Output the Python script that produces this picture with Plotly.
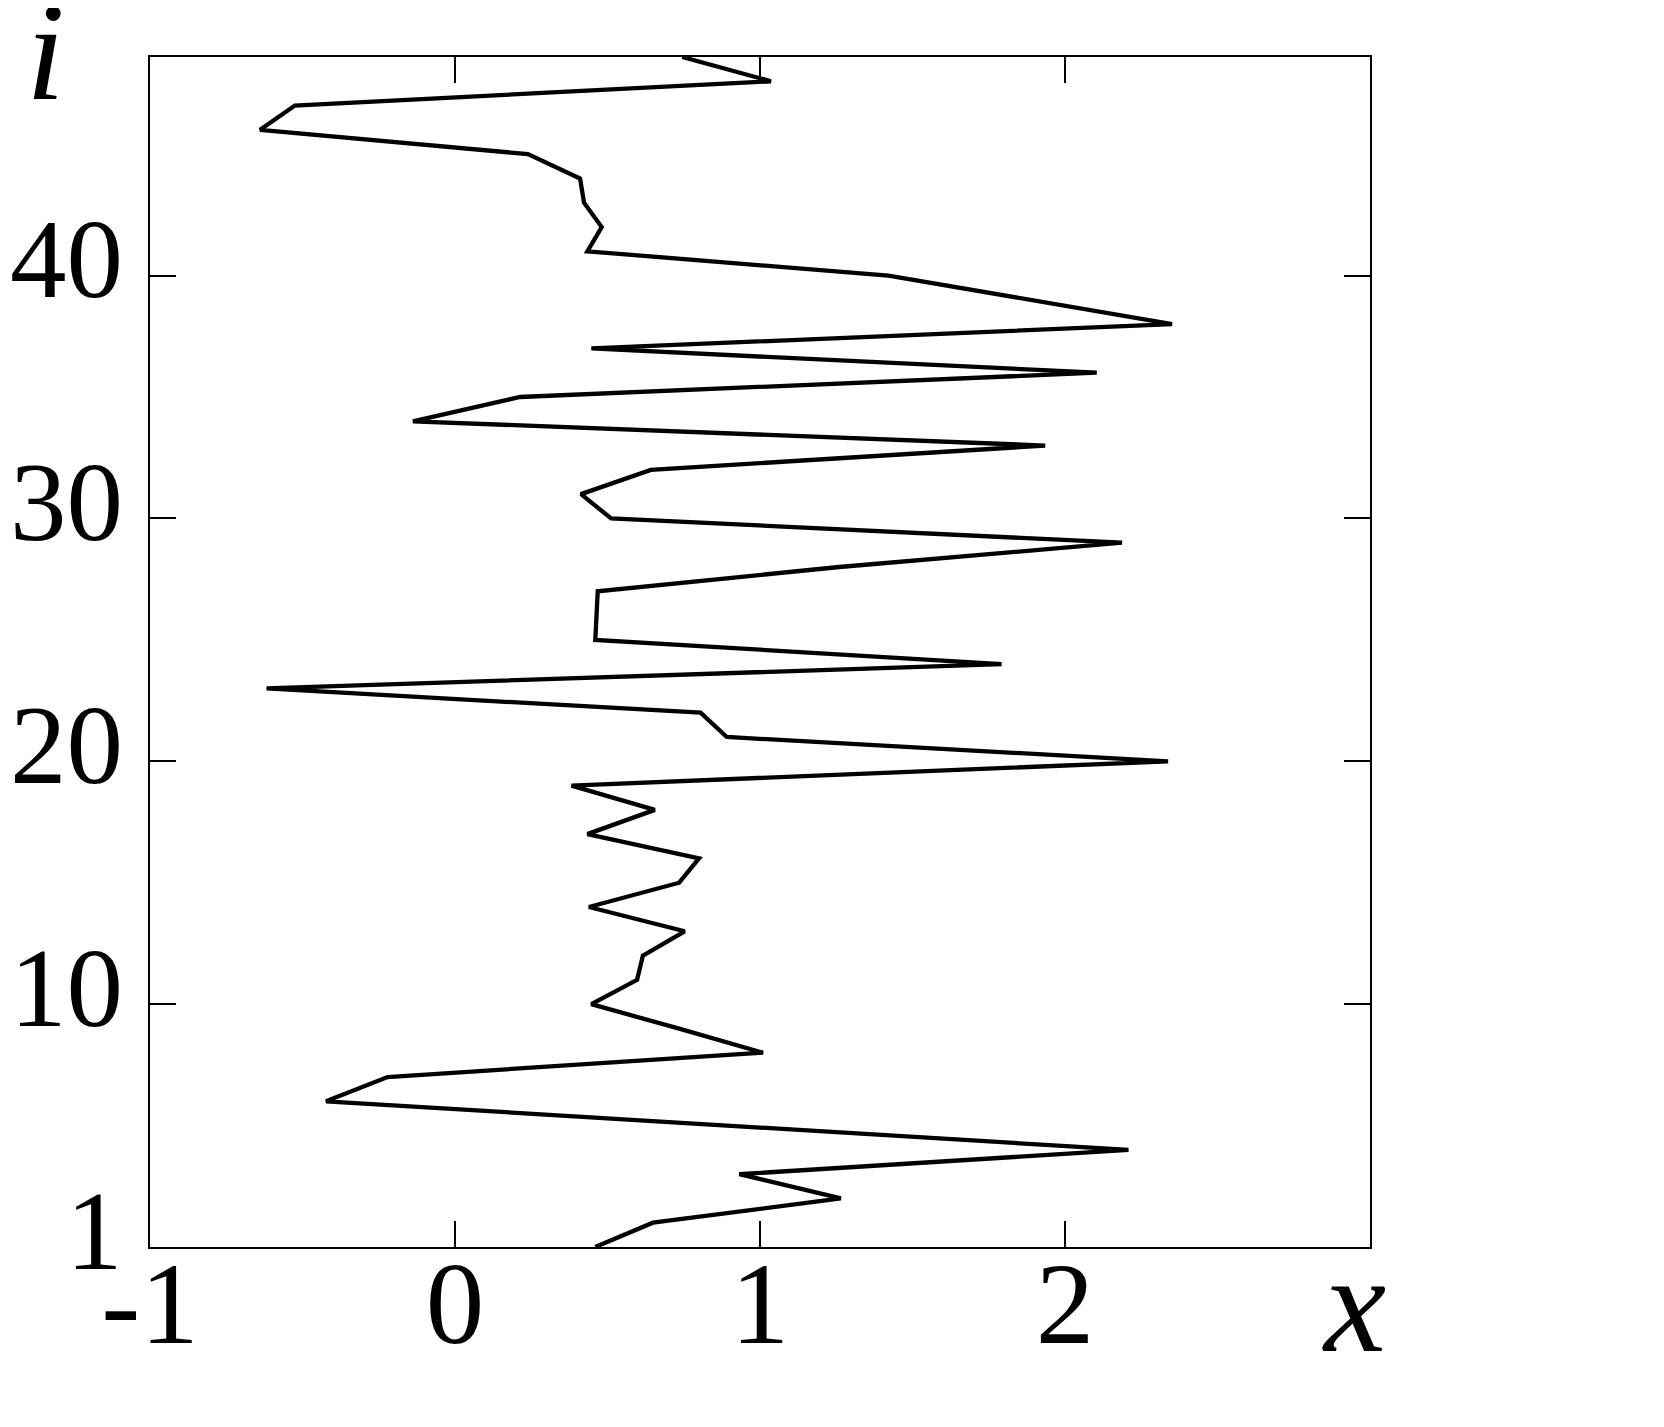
import plotly.graph_objects as go

i_vals = list(range(50))
x_vals = [0.46, 0.649, 1.265, 0.932, 2.208, 0.89, -0.423, -0.221, 1.01, 0.732,
          0.447, 0.597, 0.616, 0.753, 0.439, 0.735, 0.80, 0.434, 0.655, 0.382,
          2.338, 0.891, 0.805, -0.618, 1.792, 0.46, 0.465, 0.468, 1.26, 2.187,
          0.512, 0.413, 0.642, 1.935, -0.138, 0.213, 2.104, 0.447, 2.351, 1.88,
          1.421, 0.434, 0.481, 0.423, 0.410, 0.239, -0.639, -0.525, 1.036, 0.745]

x_ticks = [-1, 0, 1, 2]
x_ticktext = ["-1", "0", "1", "2"]
y_ticks = [0, 10, 20, 30, 40]
y_ticktext = ["1", "10", "20", "30", "40"]

FONT = "Liberation Serif, serif"
FS = 113

# page body offset of 8 px is accounted for in the margins
L, T = 142, 49
PW, PH = 1220, 1190

fig = go.Figure()
fig.add_trace(go.Scatter(x=x_vals, y=i_vals, mode="lines",
                         line=dict(color="black", width=4.3), showlegend=False))

annotations = []
for v, t in zip(y_ticks, y_ticktext):
    annotations.append(dict(text=t, xref="paper", yref="y", x=0, y=v,
                            xanchor="right", yanchor="middle", xshift=-26, yshift=17,
                            borderpad=0, showarrow=False,
                            font=dict(family=FONT, size=FS, color="black")))
annotations.append(dict(text="<i>x</i>", xref="paper", yref="paper", x=(1354-150)/PW,
                        y=-(1303-1247)/PH, showarrow=False, xanchor="center", yanchor="middle",
                        borderpad=0, font=dict(family=FONT, size=140, color="black")))
annotations.append(dict(text="<i>i</i>", xref="paper", yref="paper", x=(45-150)/PW,
                        y=1 + (57-51)/PH, showarrow=False, xanchor="center", yanchor="middle",
                        borderpad=0, font=dict(family=FONT, size=140, color="black")))

fig.update_layout(
    width=1664, height=1427,
    margin=dict(l=L, r=1664-L-PW, t=T, b=1427-T-PH, autoexpand=False),
    paper_bgcolor="white", plot_bgcolor="white",
    font=dict(family=FONT, size=117, color="black"),
    xaxis=dict(range=[-1, 3], tickvals=x_ticks, ticktext=x_ticktext,
               ticks="inside", ticklen=26, tickwidth=1.6, tickcolor="black",
               showline=True, linecolor="black", linewidth=2.2, mirror="ticks",
               showgrid=False, zeroline=False, ticklabelstandoff=-47, automargin=False),
    yaxis=dict(range=[0, 49], tickvals=y_ticks, ticktext=y_ticktext, showticklabels=False,
               ticks="inside", ticklen=26, tickwidth=1.6, tickcolor="black",
               showline=True, linecolor="black", linewidth=2.2, mirror="ticks",
               showgrid=False, zeroline=False, automargin=False),
    annotations=annotations,
)

fig.write_html("out.html")
